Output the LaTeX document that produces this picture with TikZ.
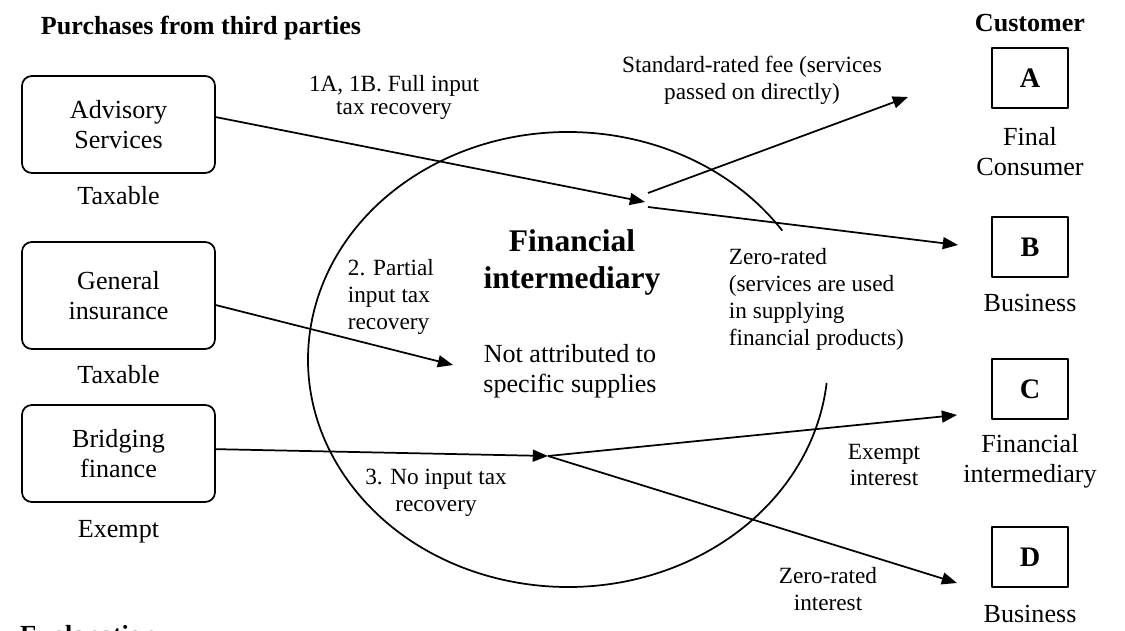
\documentclass[tikz,border=0pt]{standalone}
\usepackage{fontspec}
\setmainfont{Liberation Serif}
\usetikzlibrary{arrows.meta}
\tikzset{
  buy/.style={draw,rounded corners=4.5pt,align=center,inner sep=0pt,
    minimum width=88.8pt,minimum height=44.6pt},
  cust/.style={draw,font=\fontsize{13}{15}\selectfont\bfseries,inner sep=0pt,
    minimum width=35pt,minimum height=27.6pt},
  head/.style={font=\fontsize{12}{14}\selectfont\bfseries},
  lbl/.style={font=\fontsize{10.7}{12.4}\selectfont,align=center,inner sep=0pt},
  txt/.style={align=center,inner sep=0pt}
}
\begin{document}
\begin{tikzpicture}[x=.46pt,y=-.46pt,>={Triangle[length=7pt,width=5.5pt]},
  line width=.8pt,line join=round,font=\fontsize{12}{13.8}\selectfont]
\useasboundingbox (0,0) rectangle (1125,630);
\def\ex{568} \def\ey{359.5} % centre of the oval
% headings
\node[head,anchor=base] (ttl) at (201,35) {Purchases from third parties};
\node[head,anchor=base] (ttlC) at (1030,32) {Customer};
\node[head,anchor=base west] (expl) at (12,643) {Explanation};
% purchases
\node[buy] (adv) at (118.5,124.5) {Advisory\\Services};
\node[buy,minimum height=49.2pt] (ins) at (118.5,295.5) {General\\insurance};
\node[buy] (brg) at (118.5,453.5) {Bridging\\finance};
\node[anchor=base] (tax1) at (118.5,205) {Taxable};
\node[anchor=base] (tax2) at (118.5,383) {Taxable};
\node[anchor=base] (exm) at (118.5,537) {Exempt};
% customers
\node[cust] (custA) at (1030,78) {A};
\node[cust] (custB) at (1030,247) {B};
\node[cust] (custC) at (1030,389) {C};
\node[cust] (custD) at (1030,557) {D};
\node[txt] (labA) at (1030,152) {Final\\Consumer};
\node[txt] (labB) at (1030,303) {Business};
\node[txt] (labC) at (1030,461) {Financial\\intermediary};
\node[txt] (labD) at (1030,614) {Business};
% the intermediary
\draw (\ex,\ey) ++(-34.5:260 and 227.5) arc[start angle=-34.5,end angle=-354.1,x radius=260,y radius=227.5];
\node[txt,font=\fontsize{14.5}{17}\selectfont\bfseries] (fi) at (572,262) {Financial\\intermediary};
\node[txt] (notattr) at (570,371) {Not attributed to\\specific supplies};
% flows
\coordinate (hub1) at (645,202);
\coordinate (hub1a) at (648,193); \coordinate (hub1b) at (648,207);
\coordinate (hub2) at (548,456);
\coordinate (tipG) at (453,365);
\coordinate (tipA) at (908,97); \coordinate (tipB) at (958,245);
\coordinate (tipC) at (957,415); \coordinate (tipD) at (957,583);
\draw[->] ([yshift=3.4pt]adv.east) -- (hub1);
\draw[->] ([yshift=-4.4pt]ins.east) -- (tipG);
\draw[->] ([yshift=2pt]brg.east) -- (hub2);
\draw[->] (hub1a) -- (tipA);
\draw[->] (hub1b) -- (tipB);
\draw[->] (hub2) -- (tipC);
\draw[->] (hub2) -- (tipD);
% labels on the flows
\node[lbl,font=\fontsize{10.7}{10.6}\selectfont] (lbl1) at (394,97) {1A, 1B. Full input\\tax recovery};
\node[lbl,align=left,anchor=west] (lbl2) at (347,297) {2. Partial\\input tax\\recovery};
\node[lbl] (lbl3) at (436,493) {3. No input tax\\recovery};
\node[lbl] (lblstd) at (752,80) {Standard-rated fee (services\\passed on directly)};
\node[lbl,align=left,anchor=west] (lblzero) at (728,299) {Zero-rated\\(services are used\\in supplying\\financial products)};
\node[lbl] (lblex) at (884,465) {Exempt\\interest};
\node[lbl] (lblzi) at (828,589) {Zero-rated\\interest};
\end{tikzpicture}
\end{document}
